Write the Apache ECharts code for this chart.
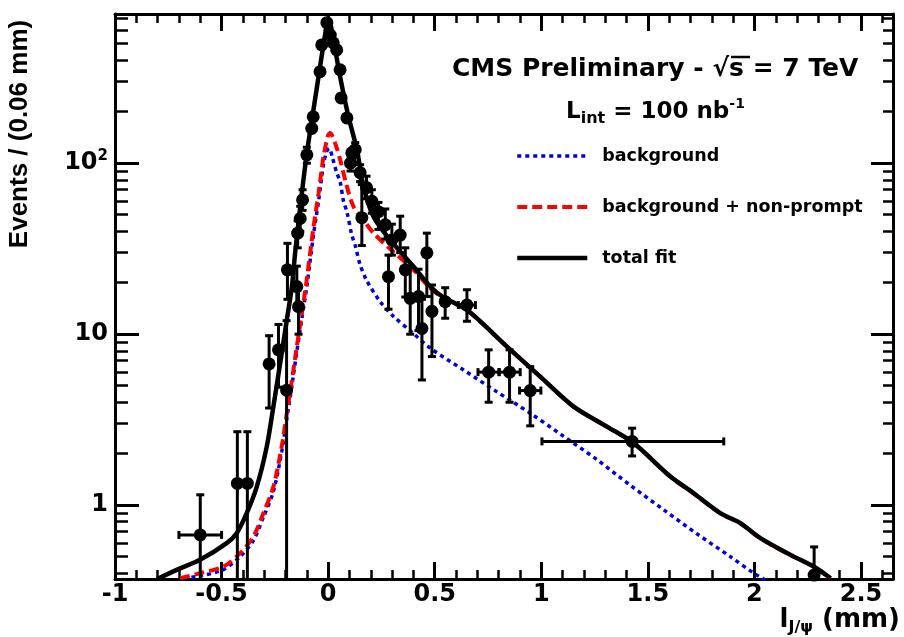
<!DOCTYPE html>
<html>
<head>
<meta charset="utf-8">
<script src="https://cdn.jsdelivr.net/npm/echarts@6/dist/echarts.min.js"></script>
<style>
  html, body { margin: 0; padding: 0; background: #fff; }
  #chart { width: 904px; height: 637px; }
</style>
</head>
<body>
<div id="chart"></div>
<script>
// ---- axis ticks ----
const xTickValues = [-1, -0.5, 0, 0.5, 1, 1.5, 2, 2.5];
const xMinorValues = [-0.9, -0.8, -0.7, -0.6, -0.4, -0.3, -0.2, -0.1, 0.1, 0.2, 0.3, 0.4,
  0.6, 0.7, 0.8, 0.9, 1.1, 1.2, 1.3, 1.4, 1.6, 1.7, 1.8, 1.9, 2.1, 2.2, 2.3, 2.4, 2.6];
const yTickValues = [1, 10, 100];
const yMinorValues = [0.4, 0.5, 0.6, 0.7, 0.8, 0.9, 2, 3, 4, 5, 6, 7, 8, 9,
  20, 30, 40, 50, 60, 70, 80, 90, 200, 300, 400, 500, 600, 700];

// ---- measured data points (decay length, events) ----
const dataX    = [-0.60, -0.426, -0.379, -0.277, -0.233, -0.195, -0.191, -0.147, -0.139, -0.143, -0.131, -0.120, -0.100, -0.077, -0.070, -0.038, -0.030, -0.006, 0.010, 0.024, 0.040, 0.056, 0.061, 0.088, 0.111, 0.105, 0.127, 0.150, 0.158, 0.180, 0.205, 0.236, 0.268, 0.283, 0.299, 0.338, 0.362, 0.385, 0.424, 0.440, 0.463, 0.487, 0.549, 0.651, 0.753, 0.851, 0.948, 1.426, 2.280];
const dataY    = [0.67, 1.34, 1.34, 6.7, 8.1, 4.7, 23.8, 19, 14.5, 39, 47.5, 61, 112, 160, 187, 343, 492, 664, 562, 506, 460, 352, 241, 184, 115, 100, 120, 88, 48, 72, 60, 52, 43.6, 21.7, 35.6, 38, 23.8, 16.2, 16.6, 10.8, 29.9, 13.6, 15.5, 14.8, 6.0, 6.0, 4.68, 2.36, 0.39];
const dataXLow = [-0.70, -0.45, -0.40, -0.29, -0.245, -0.21, -0.205, -0.16, -0.15, -0.155, -0.145, -0.135, -0.115, -0.09, -0.085, -0.05, -0.045, -0.02, -0.005, 0.01, 0.025, 0.045, 0.05, 0.075, 0.10, 0.09, 0.115, 0.135, 0.145, 0.165, 0.19, 0.22, 0.255, 0.27, 0.285, 0.325, 0.35, 0.37, 0.41, 0.425, 0.45, 0.475, 0.52, 0.611, 0.703, 0.801, 0.898, 1.003, 2.265];
const dataXHigh = [-0.50, -0.40, -0.355, -0.265, -0.22, -0.18, -0.175, -0.135, -0.125, -0.13, -0.115, -0.105, -0.085, -0.065, -0.055, -0.025, -0.015, 0.01, 0.025, 0.04, 0.055, 0.07, 0.075, 0.10, 0.125, 0.12, 0.14, 0.165, 0.17, 0.195, 0.22, 0.25, 0.28, 0.295, 0.31, 0.35, 0.375, 0.40, 0.44, 0.455, 0.475, 0.50, 0.58, 0.691, 0.803, 0.901, 0.998, 1.856, 2.295];
const dataYLow = [0, 0, 0, 3.7, 4.9, 0, 16, 14, 10, 32, 40, 53, 100, 147, 173, 324, 470, 638, 538, 483, 438, 333, 225, 170, 104, 90, 108, 78, 33, 62, 51, 41, 36, 14, 29, 30, 16.5, 10, 10.5, 5.4, 16.6, 7.4, 12.4, 11.9, 4.0, 4.0, 2.91, 1.94, 0];
const dataYHigh = [1.15, 2.69, 2.69, 9.8, 11.4, 12, 34, 25, 19, 46, 56, 70, 124, 174, 201, 362, 514, 690, 586, 529, 482, 371, 257, 198, 126, 110, 132, 98, 75, 84, 70, 59, 54, 29, 44, 49, 32, 25, 24, 16, 39, 19.4, 18.7, 18.2, 8.1, 8.1, 6.46, 2.82, 0.57];

// ---- fit components ----
const fitX = [-0.804, -0.70, -0.601, -0.476, -0.429, -0.382, -0.335, -0.288, -0.257, -0.225, -0.194, -0.170, -0.155, -0.131, -0.100, -0.069, -0.038, -0.015, 0, 0.012, 0.025, 0.056, 0.095, 0.135, 0.166, 0.213, 0.291, 0.40, 0.479, 0.541, 0.651, 0.839, 0.995, 1.152, 1.308, 1.433, 1.606, 1.715, 1.840, 1.934, 2.028, 2.169, 2.278, 2.357];
const fitY = [0.369, 0.424, 0.479, 0.60, 0.686, 0.898, 1.28, 2.20, 3.77, 6.77, 12.1, 19.0, 29.8, 55.7, 114, 205, 367, 560, 700, 640, 527, 321, 188, 120, 73, 48.7, 35.6, 24.9, 19.0, 16.4, 13.9, 8.46, 5.65, 3.77, 2.88, 2.31, 1.47, 1.175, 0.898, 0.785, 0.641, 0.512, 0.438, 0.374];

const bkgNpX = [-0.695, -0.601, -0.492, -0.413, -0.351, -0.304, -0.257, -0.218, -0.194, -0.170, -0.147, -0.123, -0.100, -0.069, -0.045, -0.022, 0, 0.009, 0.033, 0.056, 0.088, 0.119, 0.166, 0.213, 0.291, 0.40, 0.479, 0.541, 0.651, 0.839, 0.995, 1.152, 1.308, 1.433, 1.606, 1.715, 1.840, 1.934, 2.028, 2.169, 2.278, 2.357];
const bkgNpY = [0.374, 0.40, 0.437, 0.524, 0.655, 0.898, 1.28, 2.2, 3.45, 5.4, 8.46, 13.3, 21, 42, 66.7, 109, 146, 150, 131, 105, 73, 55.7, 46.6, 39, 31.5, 23.8, 18.6, 16.2, 13.8, 8.44, 5.64, 3.76, 2.87, 2.30, 1.465, 1.17, 0.895, 0.782, 0.639, 0.51, 0.437, 0.373];

const bkgX = [-0.679, -0.601, -0.492, -0.413, -0.351, -0.304, -0.257, -0.218, -0.194, -0.170, -0.147, -0.123, -0.100, -0.069, -0.045, -0.022, -0.006, 0.005, 0.020, 0.040, 0.056, 0.072, 0.088, 0.111, 0.127, 0.150, 0.182, 0.244, 0.307, 0.40, 0.479, 0.635, 0.792, 0.948, 1.10, 1.26, 1.42, 1.574, 1.73, 1.887, 1.997, 2.06];
const bkgY = [0.374, 0.385, 0.42, 0.50, 0.62, 0.85, 1.2, 2.05, 3.2, 5.0, 7.9, 12.4, 19, 38, 60, 98, 118, 122, 108, 88, 78, 60, 52, 38, 33, 25.5, 20.5, 15.5, 12.7, 10.1, 8.28, 6.18, 4.6, 3.45, 2.55, 1.85, 1.3, 0.94, 0.68, 0.50, 0.40, 0.36];

const legendNames = ['background', 'background + non-prompt', 'total fit'];

// ---- layout constants ----
const X_MIN = -1, X_MAX = 2.65;
const Y_MIN = 0.37, Y_MAX = 746;
const FONT = 'DejaVu Sans';

const zip = (xs, ys) => xs.map((x, i) => [x, ys[i]]);

function makeXAxis(position, ticks, tickLen, primary, withLabels) {
  return {
    type: 'value', position, min: X_MIN, max: X_MAX,
    axisLine: { show: primary, onZero: false, lineStyle: { color: '#000', width: 3 } },
    axisTick: { show: true, inside: true, length: tickLen, customValues: ticks,
      lineStyle: { color: '#000', width: primary ? 3 : 2.5 } },
    axisLabel: withLabels ? {
      show: true, customValues: xTickValues, margin: 4,
      color: '#000', fontFamily: FONT, fontWeight: 'bold', fontSize: 24,
      formatter: v => String(v)
    } : { show: false },
    splitLine: { show: false }
  };
}

function makeYAxis(position, ticks, tickLen, primary, withLabels) {
  return {
    type: 'log', logBase: 10, position, min: Y_MIN, max: Y_MAX,
    axisLine: { show: primary, onZero: false, lineStyle: { color: '#000', width: 3 } },
    axisTick: { show: true, inside: true, length: tickLen, customValues: ticks,
      lineStyle: { color: '#000', width: primary ? 3 : 2.5 } },
    axisLabel: withLabels ? {
      show: true, customValues: yTickValues, margin: 7,
      formatter: v => (Math.abs(v - 100) < 1e-6 ? '{n|10}{s|2}' : '{n|' + Math.round(v) + '}'),
      rich: {
        n: { color: '#000', fontFamily: FONT, fontWeight: 'bold', fontSize: 24, lineHeight: 30 },
        s: { color: '#000', fontFamily: FONT, fontWeight: 'bold', fontSize: 15, lineHeight: 15, verticalAlign: 'top' }
      }
    } : { show: false },
    splitLine: { show: false }
  };
}

// error bars: vertical span with end caps, horizontal bin width where wider than the marker
function renderErrorBar(params, api) {
  const cs = params.coordSys;
  const bottom = cs.y + cs.height;
  const top = cs.y;
  const x = api.value(0), y = api.value(1);
  const p = api.coord([x, y]);
  const xl = api.coord([api.value(2), y])[0];
  const xh = api.coord([api.value(3), y])[0];
  const ylv = api.value(4), yhv = api.value(5);
  const yl = ylv > Y_MIN ? api.coord([x, ylv])[1] : bottom;
  const yh = Math.max(api.coord([x, yhv])[1], top);
  const cap = 4;
  const st = { stroke: '#000', lineWidth: 3 };
  const children = [];
  children.push({ type: 'line', shape: { x1: p[0], y1: yh, x2: p[0], y2: yl }, style: st });
  if (p[1] - yh > 7) {
    children.push({ type: 'line', shape: { x1: p[0] - cap, y1: yh, x2: p[0] + cap, y2: yh }, style: st });
  }
  if (ylv > Y_MIN && yl - p[1] > 7) {
    children.push({ type: 'line', shape: { x1: p[0] - cap, y1: yl, x2: p[0] + cap, y2: yl }, style: st });
  }
  if (xh - xl > 15) {
    children.push({ type: 'line', shape: { x1: xl, y1: p[1], x2: xh, y2: p[1] }, style: st });
    children.push({ type: 'line', shape: { x1: xl, y1: p[1] - cap, x2: xl, y2: p[1] + cap }, style: st });
    children.push({ type: 'line', shape: { x1: xh, y1: p[1] - cap, x2: xh, y2: p[1] + cap }, style: st });
  }
  return { type: 'group', children };
}

const errorData = dataX.map((x, i) => [x, dataY[i], dataXLow[i], dataXHigh[i], dataYLow[i], dataYHigh[i]]);

const chart = echarts.init(document.getElementById('chart'), null, { renderer: 'canvas' });

chart.setOption({
  animation: false,
  backgroundColor: '#fff',
  grid: { left: 115, right: 11, top: 14, bottom: 58, containLabel: false, outerBoundsMode: 'none' },
  xAxis: [
    makeXAxis('bottom', xTickValues, 17, true, true),
    makeXAxis('top', xTickValues, 17, true, false),
    makeXAxis('bottom', xMinorValues, 9, false, false),
    makeXAxis('top', xMinorValues, 9, false, false)
  ],
  yAxis: [
    makeYAxis('left', yTickValues, 24, true, true),
    makeYAxis('right', yTickValues, 22, true, false),
    makeYAxis('left', yMinorValues, 13, false, false),
    makeYAxis('right', yMinorValues, 10, false, false)
  ],
  legend: {
    data: legendNames,
    orient: 'vertical', left: 510, top: 141,
    itemWidth: 70, itemHeight: 14, itemGap: 31,
    selectedMode: false,
    lineStyle: { width: 'inherit' },
    itemStyle: { opacity: 0 },
    textStyle: { fontFamily: FONT, fontWeight: 'bold', fontSize: 17.5, color: '#000',
      lineHeight: 20, padding: [0, 0, 0, 10] }
  },
  series: [
    {
      name: 'background', type: 'line', data: zip(bkgX, bkgY),
      symbol: 'none', smooth: 0.3, z: 2,
      lineStyle: { color: '#0000dd', width: 3.5, type: [4, 4] },
      itemStyle: { color: '#0000dd' }
    },
    {
      name: 'background + non-prompt', type: 'line', data: zip(bkgNpX, bkgNpY),
      symbol: 'none', smooth: 0.3, z: 3,
      lineStyle: { color: '#ff0000', width: 4, type: [10, 5] },
      itemStyle: { color: '#ff0000' }
    },
    {
      name: 'total fit', type: 'line', data: zip(fitX, fitY),
      symbol: 'none', smooth: 0.3, z: 4,
      lineStyle: { color: '#000', width: 4.5, type: 'solid' },
      itemStyle: { color: '#000' }
    },
    {
      name: 'data errors', type: 'custom', data: errorData,
      encode: { x: 0, y: 1 }, renderItem: renderErrorBar, clip: true, z: 5
    },
    {
      name: 'data', type: 'scatter', data: zip(dataX, dataY),
      symbol: 'circle', symbolSize: 13, z: 6,
      itemStyle: { color: '#000', opacity: 1 }
    }
  ],
  graphic: [
    {
      type: 'text', x: 452, y: 69, z: 10,
      style: {
        text: 'CMS Preliminary - \u221As = 7 TeV',
        fontFamily: FONT, fontWeight: 'bold', fontSize: 25, fill: '#000',
        align: 'left', verticalAlign: 'middle', textAlign: 'left', textVerticalAlign: 'middle'
      }
    },
    {
      type: 'line', z: 10,
      shape: { x1: 731, y1: 57, x2: 750, y2: 57 },
      style: { stroke: '#000', lineWidth: 2.5 }
    },
    {
      type: 'text', x: 566, y: 97, z: 10,
      style: {
        text: '{m|L}{b|int}{m| = 100 nb}{t|-1}',
        align: 'left', verticalAlign: 'top', textAlign: 'left', textVerticalAlign: 'top',
        rich: {
          m: { fontFamily: FONT, fontWeight: 'bold', fontSize: 23, lineHeight: 30, fill: '#000' },
          b: { fontFamily: FONT, fontWeight: 'bold', fontSize: 16, lineHeight: 16, verticalAlign: 'bottom', fill: '#000' },
          t: { fontFamily: FONT, fontWeight: 'bold', fontSize: 14, lineHeight: 14, verticalAlign: 'top', fill: '#000' }
        }
      }
    },
    {
      type: 'text', x: 20, y: 134, rotation: Math.PI / 2, z: 10,
      style: {
        text: 'Events / (0.06 mm)',
        fontFamily: 'Liberation Sans', fontWeight: 'bold', fontSize: 26, fill: '#000',
        align: 'center', verticalAlign: 'middle', textAlign: 'center', textVerticalAlign: 'middle'
      }
    },
    {
      type: 'text', x: 900, y: 604, z: 10,
      style: {
        text: '{m|l}{b|J/\u03C8}{m| (mm)}',
        align: 'right', verticalAlign: 'top', textAlign: 'right', textVerticalAlign: 'top',
        rich: {
          m: { fontFamily: FONT, fontWeight: 'bold', fontSize: 26, lineHeight: 32, fill: '#000' },
          b: { fontFamily: FONT, fontWeight: 'bold', fontSize: 16, lineHeight: 18, verticalAlign: 'bottom', fill: '#000' }
        }
      }
    }
  ]
});
</script>
</body>
</html>
